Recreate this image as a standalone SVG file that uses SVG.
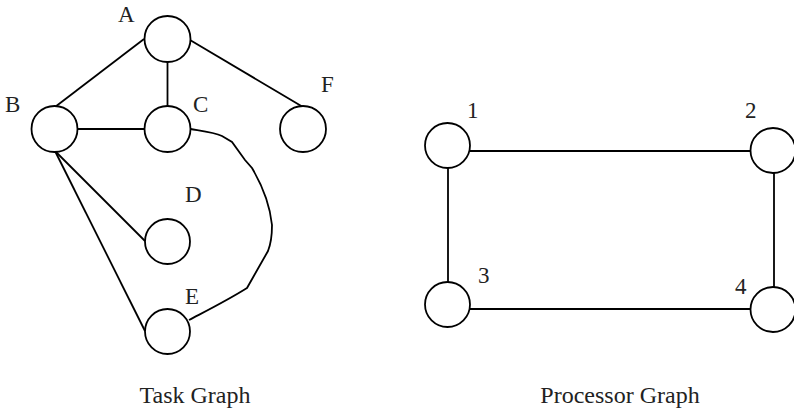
<svg xmlns="http://www.w3.org/2000/svg" width="794" height="414" viewBox="0 0 794 414">
<style>
.n{fill:#fff;stroke:#000;stroke-width:1.8}
.e{fill:none;stroke:#000;stroke-width:1.8}
text{font-family:"Liberation Serif","Times New Roman",serif;font-size:23px;fill:#222}
.cap{font-size:24px;text-anchor:middle}
</style>
<rect width="794" height="414" fill="#fff"/>
<g id="connectors">
<line class="e" x1="144" y1="39" x2="55" y2="107"/>
<line class="e" x1="167.5" y1="62" x2="167.5" y2="106"/>
<line class="e" x1="190" y1="40" x2="303" y2="107"/>
<line class="e" x1="77" y1="129" x2="145" y2="129"/>
<line class="e" x1="55" y1="151" x2="145" y2="241"/>
<line class="e" x1="55" y1="151" x2="145" y2="331"/>
<path class="e" d="M190.5,129 C203,131 214,132 222,136 L232,142 L245,160 L252,168 C262,185 270,205 272,225 C272,238 270,246 268,251 L247,288 C228,300 208,310 189,320"/>
<line class="e" x1="470" y1="151" x2="751" y2="151"/>
<line class="e" x1="448" y1="168" x2="448" y2="282"/>
<line class="e" x1="774" y1="173" x2="774" y2="287"/>
<line class="e" x1="470" y1="309" x2="751" y2="309"/>
</g>
<g id="node-A"><circle class="n" cx="167.5" cy="39" r="23"/><text x="118" y="22">A</text></g>
<g id="node-B"><circle class="n" cx="54.5" cy="129" r="23"/><text x="5" y="112">B</text></g>
<g id="node-C"><circle class="n" cx="167.5" cy="129" r="23"/><text x="193" y="112">C</text></g>
<g id="node-F"><circle class="n" cx="303" cy="129" r="23"/><text x="321" y="92">F</text></g>
<g id="node-D"><circle class="n" cx="167.5" cy="241.5" r="22.5"/><text x="185" y="202">D</text></g>
<g id="node-E"><circle class="n" cx="167.5" cy="331.5" r="22.5"/><text x="185" y="304">E</text></g>
<g id="node-1"><circle class="n" cx="447.5" cy="145.5" r="22.5"/><text x="467" y="118">1</text></g>
<g id="node-2"><circle class="n" cx="773" cy="150.5" r="22.5"/><text x="745" y="118">2</text></g>
<g id="node-3"><circle class="n" cx="447.5" cy="304.5" r="22.5"/><text x="478" y="283">3</text></g>
<g id="node-4"><circle class="n" cx="773" cy="309.5" r="22.5"/><text x="735" y="294">4</text></g>
<g id="captions">
<text class="cap" x="195" y="403">Task Graph</text>
<text class="cap" x="620" y="403">Processor Graph</text>
</g>
</svg>
